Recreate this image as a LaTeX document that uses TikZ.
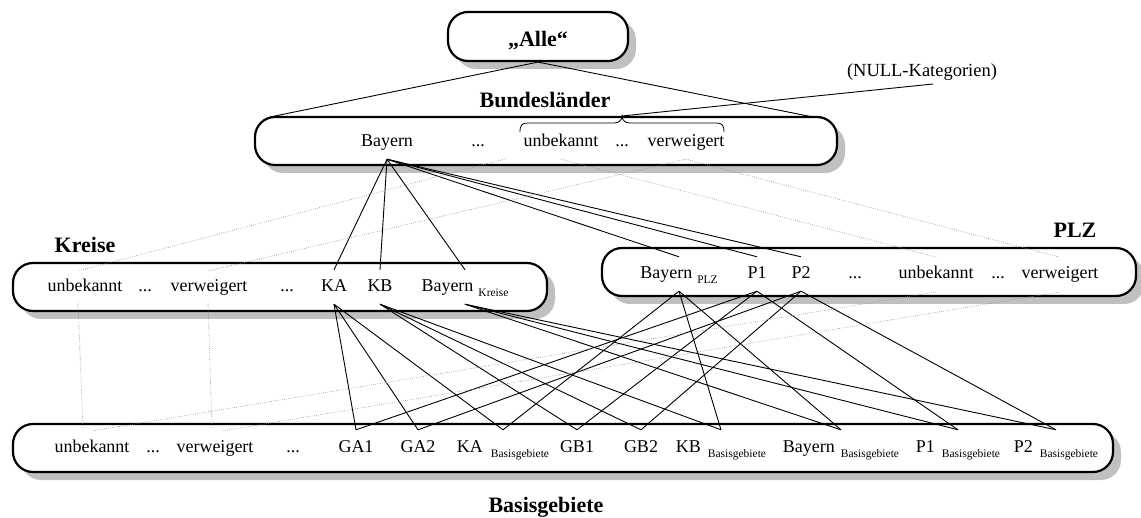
\documentclass[tikz,border=0pt]{standalone}
\usepackage{fontspec}
\setmainfont{Liberation Serif}
\usetikzlibrary{shadows}
\definecolor{shade}{RGB}{192,192,192}
\definecolor{nullgray}{RGB}{140,140,140}
% lowered, smaller level name after a member name
\newcommand{\lvlsub}[2][5pt]{\hspace{#1}\raisebox{-5pt}{\fontsize{11.5}{12}\selectfont #2}}
\begin{document}
\begin{tikzpicture}[x=1pt,y=-1pt,
  levelbox/.style={draw=black, line width=2.2pt, rounded corners=20pt, fill=white,
    drop shadow={shadow xshift=8pt, shadow yshift=-8pt, fill=shade, opacity=1}},
  lab/.style={font=\fontsize{22}{24}\selectfont\bfseries, inner sep=0pt, anchor=base},
  member/.style={inner sep=0pt, text height=13pt, text depth=4pt,
    font=\fontsize{18}{20}\selectfont},
  blm/.style={member, minimum height=33pt},
  krm/.style={member, minimum height=34pt},
  plm/.style={member, minimum height=34pt},
  bam/.style={member, minimum height=37pt},
  link/.style={line width=0.9pt},
  nulllink/.style={nullgray, line width=0.7pt, dash pattern=on 0.6pt off 1.6pt},
]
\useasboundingbox (0,0) rectangle (1141,518);

% level boxes
\node[levelbox, minimum width=180pt, minimum height=49pt] (alle) at (538,36.5) {};
\node[levelbox, minimum width=582pt, minimum height=48pt] (bl) at (546,141) {};
\node[levelbox, minimum width=534pt, minimum height=48pt] (kr) at (280,287) {};
\node[levelbox, minimum width=534pt, minimum height=48pt] (pl) at (869,272) {};
\node[levelbox, minimum width=1100pt, minimum height=48pt] (ba) at (563,448) {};

% level titles
\node[lab] (allelab) at (538,47) {„Alle“};
\node[lab] (bllab) at (545,108) {Bundesländer};
\node[lab] (krlab) at (85,253) {Kreise};
\node[lab] (pllab) at (1075,238) {PLZ};
\node[lab] (balab) at (546,512) {Basisgebiete};
\node[inner sep=0pt, anchor=base, font=\fontsize{18.5}{20}\selectfont] (nulllab) at (922,77) {(NULL-Kategorien)};

% Bundeslaender members
\node[blm] (blBay) at (387,142.5) {Bayern};
\node[blm] (blD1) at (478,142.5) {...};
\node[blm] (blUnb) at (561,142.5) {unbekannt};
\node[blm] (blD2) at (622,142.5) {...};
\node[blm] (blVer) at (686,142.5) {verweigert};

% Kreise members
\node[krm] (kUnb) at (85,287) {unbekannt};
\node[krm] (kD1) at (145,287) {...};
\node[krm] (kVer) at (209,287) {verweigert};
\node[krm] (kD2) at (287,287) {...};
\node[krm] (kKA) at (334,287) {KA};
\node[krm] (kKB) at (380,287) {KB};
\node[krm] (kBay) at (465,287) {Bayern\lvlsub{Kreise}};

% PLZ members
\node[plm] (pBay) at (679,274) {Bayern\lvlsub{PLZ}};
\node[plm] (pP1) at (757,274) {P1};
\node[plm] (pP2) at (801,274) {P2};
\node[plm] (pD1) at (855,274) {...};
\node[plm] (pUnb) at (936,274) {unbekannt};
\node[plm] (pD2) at (998,274) {...};
\node[plm] (pVer) at (1060,274) {verweigert};

% Basisgebiete members
\node[bam] (bUnb) at (92,448.5) {unbekannt};
\node[bam] (bD1) at (153,448.5) {...};
\node[bam] (bVer) at (215,448.5) {verweigert};
\node[bam] (bD2) at (293,448.5) {...};
\node[bam] (bGA1) at (356,448.5) {GA1};
\node[bam] (bGA2) at (418,448.5) {GA2};
\node[bam] (bKA) at (503,448.5) {KA\lvlsub[8pt]{Basisgebiete}};
\node[bam] (bGB1) at (577,448.5) {GB1};
\node[bam] (bGB2) at (641,448.5) {GB2};
\node[bam] (bKB) at (721,448.5) {KB\lvlsub[7pt]{Basisgebiete}};
\node[bam] (bBay) at (841,448.5) {Bayern\lvlsub[6pt]{Basisgebiete}};
\node[bam] (bP1) at (958,448.5) {P1\lvlsub[7pt]{Basisgebiete}};
\node[bam] (bP2) at (1056,448.5) {P2\lvlsub[7pt]{Basisgebiete}};

% brace over the NULL categories and its pointer
\coordinate (bracetip) at (622,116);
\coordinate (nullfoot) at (933,84);
\draw[line width=0.8pt] (520,132) .. controls (520,125) and (522,123) .. (528,123)
  -- (614,123) .. controls (619,123) and (622,120) .. (bracetip)
  .. controls (622,120) and (625,123) .. (630,123)
  -- (716,123) .. controls (722,123) and (724,125) .. (724,132);
\draw[link] (bracetip) -- (nullfoot);

% "Alle" to Bundeslaender
\coordinate (blL) at (270,117);
\coordinate (blR) at (813,117);
\draw[link] (alle.south) -- (blL);
\draw[link] (alle.south) -- (blR);

% Bayern to Kreise and PLZ
\foreach \t in {kKA,kKB,kBay,pBay,pP1,pP2}
  \draw[link] (blBay.south) -- (\t.north);

% Kreise to Basisgebiete
\foreach \t in {bGA1,bGA2,bKA} \draw[link] (kKA.south) -- (\t.north);
\foreach \t in {bGB1,bGB2,bKB} \draw[link] (kKB.south) -- (\t.north);
\foreach \t in {bBay,bP1,bP2} \draw[link] (kBay.south) -- (\t.north);

% PLZ to Basisgebiete
\foreach \t in {bKA,bKB,bBay} \draw[link] (pBay.south) -- (\t.north);
\foreach \t in {bGA1,bGB1,bP1} \draw[link] (pP1.south) -- (\t.north);
\foreach \t in {bGA2,bGB2,bP2} \draw[link] (pP2.south) -- (\t.north);

% NULL categories (dotted)
\coordinate (blUl) at (505,159);
\coordinate (kUt) at (78,271);
\coordinate (kUb) at (78,302);
\coordinate (kVt) at (208,271);
\coordinate (kVb) at (208,302);
\coordinate (bUv) at (83,429);
\coordinate (bUs) at (92,431);
\coordinate (bVv) at (212,429);
\coordinate (bVs) at (222,431);
\coordinate (pUt) at (936,257);
\coordinate (pUb) at (936,292);
\coordinate (pVt) at (1059,257);
\coordinate (pVb) at (1059,292);
\draw[nulllink] (blUl) -- (kUt);
\draw[nulllink] (blVer.south) -- (kVt);
\draw[nulllink] (blUnb.south) -- (pUt);
\draw[nulllink] (blVer.south) -- (pVt);
\draw[nulllink] (kUb) -- (bUv);
\draw[nulllink] (kVb) -- (bVv);
\draw[nulllink] (pUb) -- (bUs);
\draw[nulllink] (pVb) -- (bVs);
\end{tikzpicture}
\end{document}
